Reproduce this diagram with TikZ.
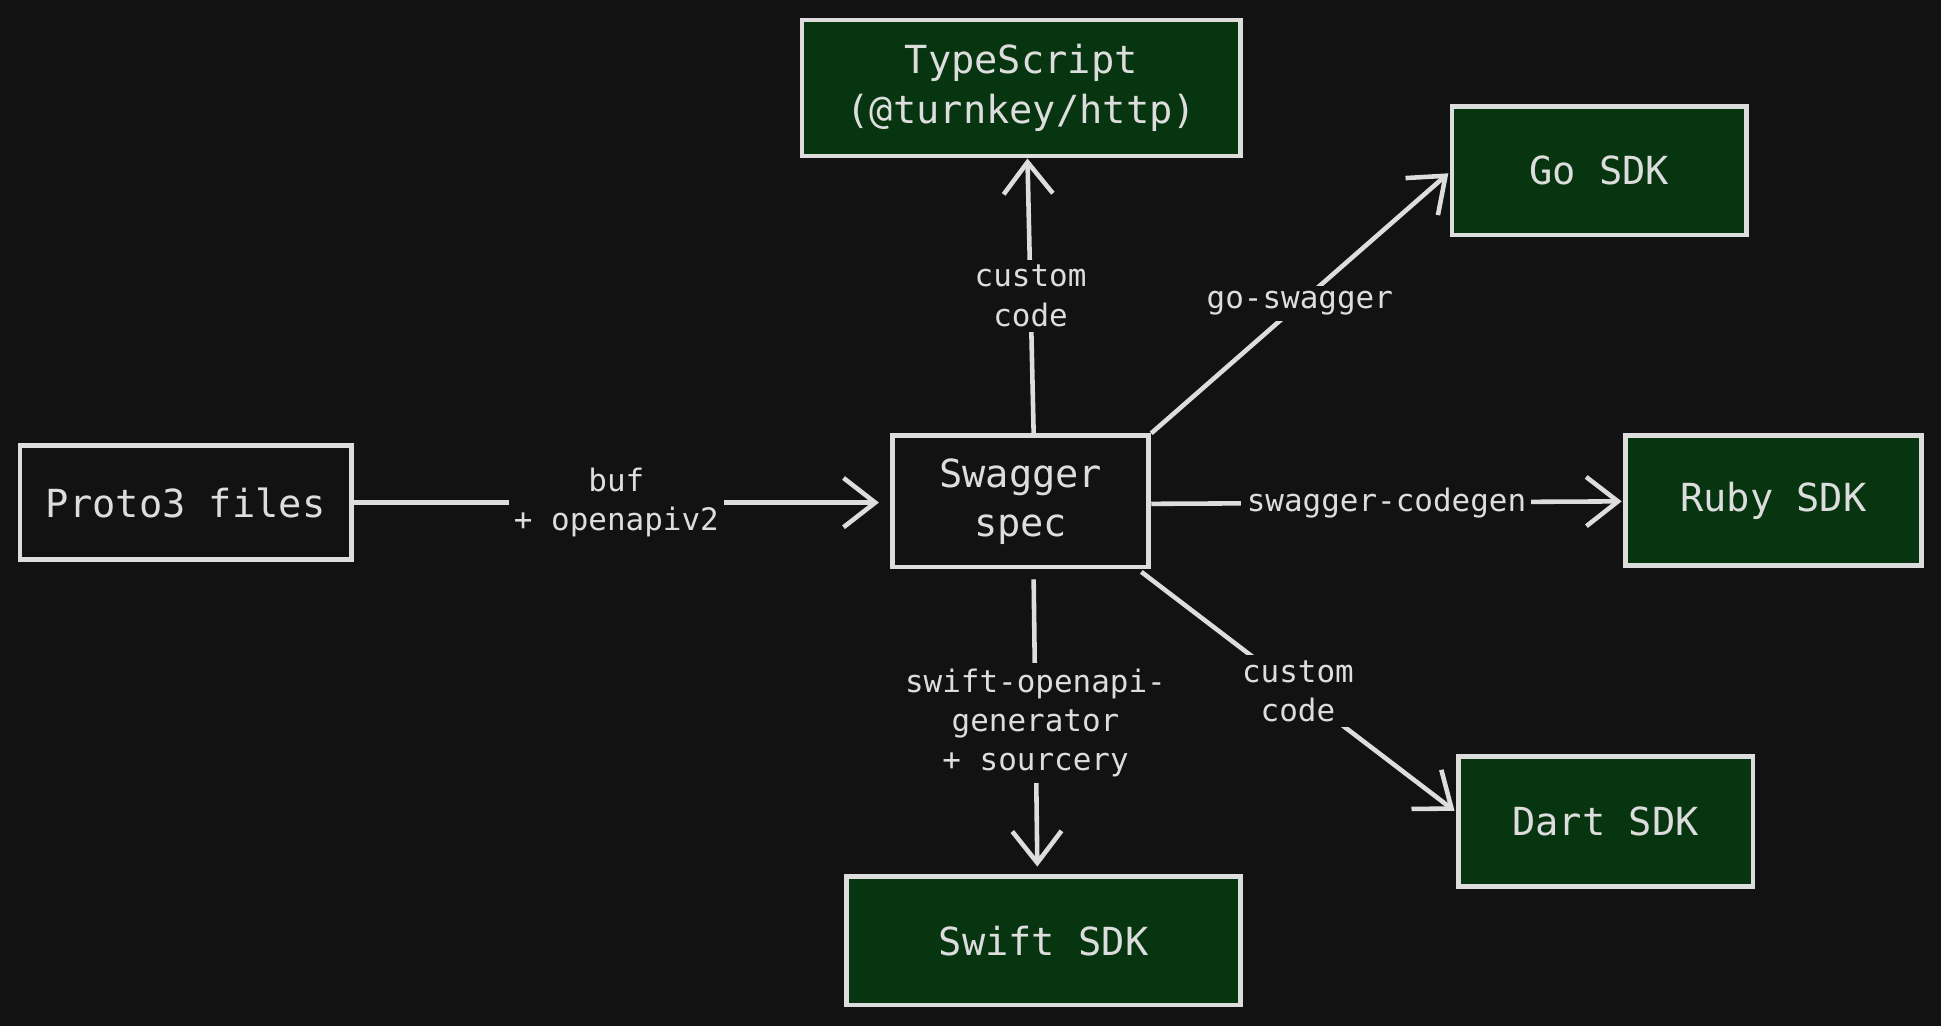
\documentclass[tikz,border=0pt]{standalone}
\usepackage{fontspec}
\setmonofont{DejaVu Sans Mono}
\usetikzlibrary{arrows.meta}
\definecolor{bg}{HTML}{121212}
\definecolor{fg}{HTML}{DDDDDD}
\definecolor{gr}{HTML}{063510}
\begin{document}
\begin{tikzpicture}[x=0.01238cm,y=-0.01238cm,
  box/.style={draw=fg,line width=1.3pt,text=fg,font=\ttfamily\fontsize{11}{14}\selectfont,align=center,inner sep=0pt},
  gbox/.style={box,fill=gr},
  conn/.style={draw=fg,line width=1.3pt,-{Straight Barb[length=9pt,width=14pt,line width=1.3pt]}},
  lab/.style={fill=bg,text=fg,font=\ttfamily\fontsize{8.8}{11.2}\selectfont,align=center,inner sep=1.5pt}]
\fill[bg] (0,0) rectangle (1568,829);
\node[gbox,minimum width=354*0.01238cm,minimum height=110*0.01238cm] (ts) at (825,71) {TypeScript\\(@turnkey/http)};
\node[gbox,minimum width=238*0.01238cm,minimum height=104*0.01238cm] (go) at (1292,138) {Go SDK};
\node[box,minimum width=268*0.01238cm,minimum height=92*0.01238cm] (pr) at (150,406) {Proto3 files};
\node[box,minimum width=207*0.01238cm,minimum height=106*0.01238cm] (sw) at (824.5,405) {Swagger\\spec};
\node[gbox,minimum width=239*0.01238cm,minimum height=105*0.01238cm] (rb) at (1432.5,404.5) {Ruby SDK};
\node[gbox,minimum width=238*0.01238cm,minimum height=105*0.01238cm] (da) at (1297,663.5) {Dart SDK};
\node[gbox,minimum width=318*0.01238cm,minimum height=104*0.01238cm] (sf) at (843,760) {Swift SDK};
\coordinate (s1) at (835,350); \coordinate (s2) at (930,350);
\coordinate (s3) at (930,407); \coordinate (s4) at (922,462);
\coordinate (s5) at (835,468);
\draw[conn] (pr.east) -- node[lab]{buf\\+ openapiv2} (710,406);
\draw[conn] (s1) -- node[lab,pos=0.5]{custom\\code} (830,128);
\draw[conn] (s2) -- node[lab,pos=0.5]{go-swagger} (1170,140);
\draw[conn] (s3) -- node[lab,pos=0.5]{swagger-codegen} (1310,405);
\draw[conn] (s4) -- node[lab,pos=0.5]{custom\\code} (1175,655);
\draw[conn] (s5) -- node[lab,pos=0.5]{swift-openapi-\\generator\\+ sourcery} (838,700);
\end{tikzpicture}
\end{document}
